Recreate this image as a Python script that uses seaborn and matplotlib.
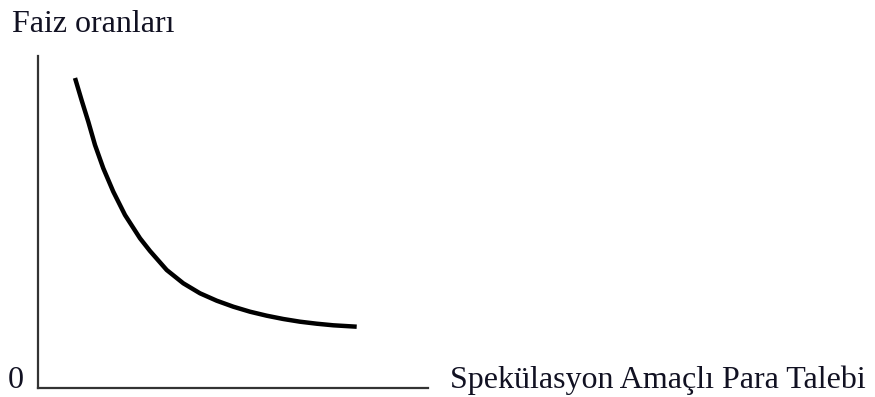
import matplotlib
matplotlib.use("Agg")
import matplotlib.pyplot as plt
import seaborn as sns

# speculative money demand vs interest rate (axis units)
talep = [37, 43.7, 50.3, 57, 65.3, 75.3, 87, 102, 112, 128.7, 145.3, 162,
         178.7, 195.3, 212, 228.7, 245.3, 262, 278.7, 295.3, 318.7]
faiz = [310, 287.5, 266.3, 243, 219.7, 196.3, 173, 149.7, 137, 118, 104.7, 94.7,
        87.3, 81.3, 76.3, 72.3, 69, 66.3, 64.3, 62.7, 61.3]

y_label = "Faiz oranları"
x_label = "Spekülasyon Amaçlı Para Talebi"
origin_label = "0"

sns.set_style("white")
plt.rcParams["font.family"] = ["Liberation Serif", "DejaVu Serif"]

fig = plt.figure(figsize=(8.75, 3.97), dpi=100)
ax = fig.add_axes([38 / 875, 9 / 397, 390 / 875, 332 / 397])

sns.lineplot(x=talep, y=faiz, color="black", linewidth=3.2, ax=ax,
             solid_joinstyle="round", solid_capstyle="butt")
ax.set_xlim(0, 390)
ax.set_ylim(0, 332)

for side in ["top", "right"]:
    ax.spines[side].set_visible(False)
for side in ["left", "bottom"]:
    ax.spines[side].set_color("#333333")
    ax.spines[side].set_linewidth(1.6)
ax.set_xticks([])
ax.set_yticks([])
ax.set_xlabel("")
ax.set_ylabel("")

txt = "#111122"
fig.text(12 / 875, 1 - 32 / 397, y_label, fontsize=23, color=txt, ha="left", va="baseline")
fig.text(8 / 875, 1 - 388 / 397, origin_label, fontsize=23, color=txt, ha="left", va="baseline")
fig.text(450 / 875, 1 - 388 / 397, x_label, fontsize=23, color=txt, ha="left", va="baseline")

fig.savefig("out.png", dpi=100)
